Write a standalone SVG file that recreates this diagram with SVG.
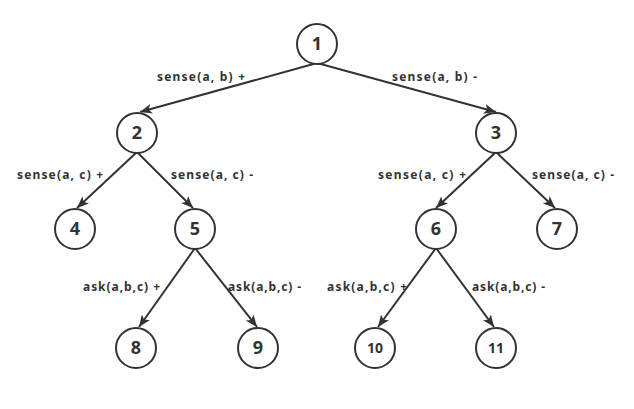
<svg xmlns="http://www.w3.org/2000/svg" width="634" height="409" viewBox="0 0 634 409">
  <defs>
    <marker id="arrow" viewBox="0 0 12 10" refX="12" refY="5" markerWidth="12" markerHeight="10" markerUnits="userSpaceOnUse" orient="auto">
      <path d="M0,0 L12,5 L0,10 L3,5 Z" fill="#333"/>
    </marker>
    <style>
      .node circle { fill: #fff; stroke: #333; stroke-width: 2; }
      .node text { font-family: "Noto Sans", "DejaVu Sans", sans-serif; font-weight: bold; font-size: 18px; fill: #333; text-anchor: middle; }
      .node text.small { font-size: 14px; }
      .edge { stroke: #333; stroke-width: 2; fill: none; marker-end: url(#arrow); }
      .label { font-family: "Noto Sans", "DejaVu Sans", sans-serif; font-weight: bold; font-size: 12px; fill: #333; }
    </style>
  </defs>
  <rect width="634" height="409" fill="#fff"/>

  <g id="connectors">
    <line class="edge" x1="317" y1="63" x2="140" y2="112"/>
    <line class="edge" x1="317" y1="63" x2="496" y2="112"/>
    <line class="edge" x1="137" y1="152" x2="77" y2="208"/>
    <line class="edge" x1="137" y1="152" x2="193" y2="208"/>
    <line class="edge" x1="496" y1="152" x2="436" y2="208"/>
    <line class="edge" x1="496" y1="152" x2="555" y2="208"/>
    <line class="edge" x1="195" y1="248" x2="139" y2="327"/>
    <line class="edge" x1="195" y1="248" x2="257" y2="327"/>
    <line class="edge" x1="436" y1="248" x2="378" y2="327"/>
    <line class="edge" x1="436" y1="248" x2="494" y2="327"/>
    <text class="label" x="157" y="81" textLength="88" lengthAdjust="spacing">sense(a, b) +</text>
    <text class="label" x="392" y="81" textLength="85" lengthAdjust="spacing">sense(a, b) -</text>
    <text class="label" x="17" y="179" textLength="86" lengthAdjust="spacing">sense(a, c) +</text>
    <text class="label" x="171" y="179" textLength="82" lengthAdjust="spacing">sense(a, c) -</text>
    <text class="label" x="378" y="179" textLength="88" lengthAdjust="spacing">sense(a, c) +</text>
    <text class="label" x="532" y="179" textLength="82" lengthAdjust="spacing">sense(a, c) -</text>
    <text class="label" x="83" y="291" textLength="77" lengthAdjust="spacing">ask(a,b,c) +</text>
    <text class="label" x="228" y="291" textLength="73" lengthAdjust="spacing">ask(a,b,c) -</text>
    <text class="label" x="327" y="291" textLength="80" lengthAdjust="spacing">ask(a,b,c) +</text>
    <text class="label" x="472" y="291" textLength="73" lengthAdjust="spacing">ask(a,b,c) -</text>
  </g>

  <g id="n1" class="node"><circle cx="317" cy="44" r="20"/><text x="317" y="50">1</text></g>
  <g id="n2" class="node"><circle cx="137" cy="133" r="20"/><text x="137" y="139">2</text></g>
  <g id="n3" class="node"><circle cx="496" cy="133" r="20"/><text x="496" y="139">3</text></g>
  <g id="n4" class="node"><circle cx="75" cy="229" r="20"/><text x="75" y="235">4</text></g>
  <g id="n5" class="node"><circle cx="195" cy="229" r="20"/><text x="195" y="235">5</text></g>
  <g id="n6" class="node"><circle cx="436" cy="229" r="20"/><text x="436" y="235">6</text></g>
  <g id="n7" class="node"><circle cx="557" cy="229" r="20"/><text x="557" y="235">7</text></g>
  <g id="n8" class="node"><circle cx="136" cy="348" r="20"/><text x="136" y="354">8</text></g>
  <g id="n9" class="node"><circle cx="258" cy="348" r="20"/><text x="258" y="354">9</text></g>
  <g id="n10" class="node"><circle cx="375" cy="348" r="20"/><text class="small" x="375" y="353">10</text></g>
  <g id="n11" class="node"><circle cx="496" cy="348" r="20"/><text class="small" x="496" y="353">11</text></g>
</svg>
